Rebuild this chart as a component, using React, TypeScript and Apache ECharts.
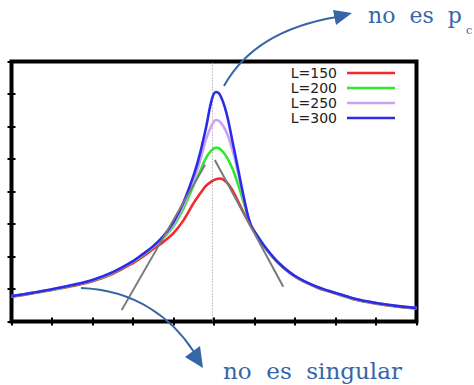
import React, { useEffect, useRef } from "react";
import * as echarts from "echarts";

// Shared x positions (arbitrary units, axis 0..10)
const xs = [0, 0.5, 1, 1.5, 2, 2.5, 3, 3.25, 3.5, 3.75, 4, 4.25, 4.5, 4.65, 4.8, 4.95, 5.05, 5.15, 5.3, 5.45, 5.6, 5.75, 5.9, 6.1, 6.3, 6.6, 7, 7.5, 8, 8.5, 9, 9.5, 10];

const l150 = [0.76, 0.86, 0.97, 1.09, 1.24, 1.47, 1.8, 2.0, 2.23, 2.45, 2.72, 3.12, 3.65, 3.92, 4.17, 4.32, 4.38, 4.4, 4.3, 4.05, 3.68, 3.3, 2.96, 2.56, 2.21, 1.78, 1.38, 1.07, 0.86, 0.67, 0.55, 0.46, 0.4];
const l200 = [0.77, 0.87, 0.98, 1.11, 1.26, 1.5, 1.84, 2.05, 2.29, 2.57, 2.94, 3.49, 4.2, 4.6, 5.03, 5.28, 5.35, 5.31, 5.09, 4.72, 4.2, 3.6, 2.98, 2.57, 2.22, 1.79, 1.39, 1.08, 0.87, 0.68, 0.56, 0.47, 0.41];
const l250 = [0.78, 0.88, 0.99, 1.12, 1.27, 1.51, 1.85, 2.07, 2.31, 2.61, 3.0, 3.58, 4.35, 4.91, 5.6, 6.05, 6.2, 6.14, 5.85, 5.3, 4.55, 3.7, 3.0, 2.58, 2.23, 1.8, 1.4, 1.09, 0.88, 0.69, 0.57, 0.48, 0.42];
const l300 = [0.78, 0.88, 0.99, 1.12, 1.28, 1.52, 1.86, 2.08, 2.32, 2.63, 3.06, 3.68, 4.51, 5.15, 5.95, 6.85, 7.06, 6.97, 6.45, 5.58, 4.66, 3.74, 3.0, 2.58, 2.23, 1.8, 1.4, 1.09, 0.88, 0.69, 0.57, 0.48, 0.42];

const seriesNames = ["L=150", "L=200", "L=250", "L=300"];
const seriesValues = [l150, l200, l250, l300];
const seriesColors = ["#f22a2a", "#2ee82e", "#c9a2f7", "#2b2bea"];

// Gray tangent lines [x, y]
const tangentLeft = [[2.72, 0.35], [4.78, 4.82]];
const tangentRight = [[5.02, 4.97], [6.71, 1.07]];

// Dotted vertical line position
const pcGuess = 4.95;

const annColor = "#3566a6";

export default function App() {
  const ref = useRef<HTMLDivElement>(null);
  useEffect(() => {
    if (!ref.current) return;
    const chart = echarts.init(ref.current, undefined, { renderer: "svg" });
    const axisCommon = {
      type: "value" as const,
      axisLine: { show: false },
      axisTick: { show: true, inside: true, length: 4, lineStyle: { color: "#000", width: 2 } },
      axisLabel: { show: false },
      splitLine: { show: false },
    };
    const curveSeries = seriesNames.map((name, k) => ({
      name,
      type: "line",
      xAxisIndex: 0,
      yAxisIndex: 0,
      data: xs.map((x, i) => [x, seriesValues[k][i]]),
      smooth: 0.35,
      symbol: "none",
      lineStyle: { color: seriesColors[k], width: 2.6 },
      itemStyle: { color: seriesColors[k] },
      z: 3 + k,
      ...(k === 0
        ? {
            markLine: {
              silent: true,
              symbol: "none",
              label: { show: false },
              lineStyle: { color: "#8a8a8a", type: [1, 2], width: 1 },
              data: [{ xAxis: pcGuess }],
            },
          }
        : {}),
    }));
    const option = {
      animation: false,
      backgroundColor: "#fff",
      grid: { left: 11.5, top: 61.5, width: 405, height: 260, show: true, borderColor: "#000", borderWidth: 4, backgroundColor: "transparent" },
      xAxis: [
        { ...axisCommon, min: 0, max: 10, interval: 1, position: "bottom" },
        { ...axisCommon, min: 0, max: 10, interval: 1, position: "top" },
      ],
      yAxis: [
        { ...axisCommon, min: 0, max: 8, interval: 1, position: "left" },
        { ...axisCommon, min: 0, max: 8, interval: 1, position: "right" },
      ],
      legend: {
        data: seriesNames.map((n) => ({ name: n, icon: "rect" })),
        orient: "vertical",
        right: 79,
        top: 66,
        padding: 0,
        align: "right",
        itemWidth: 48,
        itemHeight: 2.5,
        itemGap: 1,
        textStyle: { fontFamily: "DejaVu Sans", fontSize: 14, color: "#222", padding: [0, 5, 0, 0] },
      },
      series: [
        ...curveSeries,
        {
          name: "tangent-left",
          type: "line",
          data: tangentLeft,
          symbol: "none",
          lineStyle: { color: "#7a7a7a", width: 2 },
          z: 8,
        },
        {
          name: "tangent-right",
          type: "line",
          data: tangentRight,
          symbol: "none",
          lineStyle: { color: "#7a7a7a", width: 2 },
          z: 8,
        },
      ],
      graphic: [
        {
          type: "bezierCurve",
          shape: { x1: 224, y1: 86, cpx1: 245, cpy1: 48, cpx2: 282, cpy2: 26, x2: 337, y2: 17 },
          style: { stroke: annColor, lineWidth: 2, fill: null },
          z: 100,
        },
        {
          type: "polygon",
          shape: { points: [[352, 13], [333, 10], [336, 25]] },
          style: { fill: annColor },
          z: 100,
        },
        {
          type: "bezierCurve",
          shape: { x1: 81, y1: 288, cpx1: 135, cpy1: 290, cpx2: 172, cpy2: 318, x2: 194, y2: 352 },
          style: { stroke: annColor, lineWidth: 2, fill: null },
          z: 100,
        },
        {
          type: "polygon",
          shape: { points: [[203, 368], [185, 357], [200, 346]] },
          style: { fill: annColor },
          z: 100,
        },
        {
          type: "text",
          x: 368,
          y: 26,
          style: { text: "no  es  p", fill: annColor, font: "22px 'DejaVu Serif'", verticalAlign: "bottom" },
          z: 100,
        },
        {
          type: "text",
          x: 466,
          y: 36,
          style: { text: "c", fill: annColor, font: "11px 'DejaVu Serif'", verticalAlign: "bottom" },
          z: 100,
        },
        {
          type: "text",
          x: 223,
          y: 382,
          style: { text: "no  es  singular", fill: annColor, font: "23px 'DejaVu Serif'", verticalAlign: "bottom" },
          z: 100,
        },
      ],
    };
    chart.setOption(option as any);
    return () => chart.dispose();
  }, []);
  return <div ref={ref} style={{ position: "absolute", left: 0, top: 0, width: 474, height: 385 }} />;
}
